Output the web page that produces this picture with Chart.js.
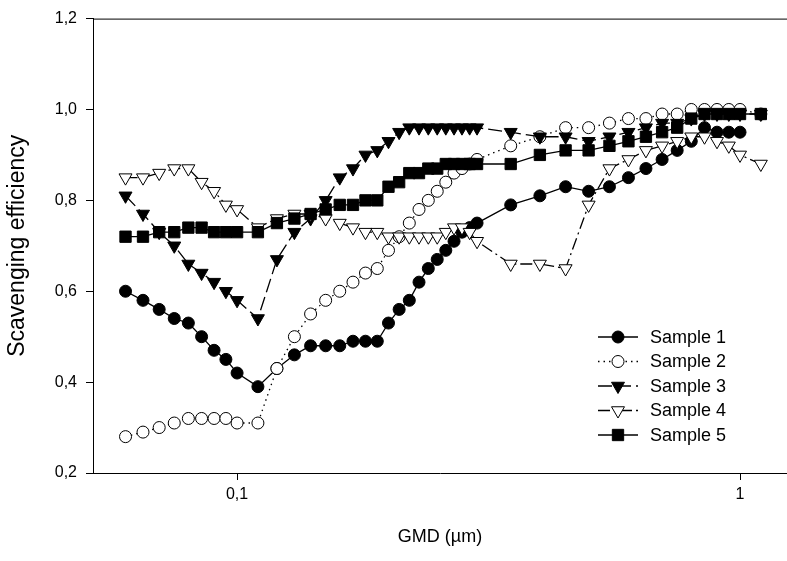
<!DOCTYPE html>
<html>
<head>
<meta charset="utf-8">
<title>Scavenging efficiency</title>
<script src="https://cdn.jsdelivr.net/npm/chart.js@4.4.1/dist/chart.umd.min.js"></script>
<style>
    html, body { margin: 0; padding: 0; background: #fff; }
    #wrap { width: 787px; height: 561px; }
</style>
</head>
<body>
<div id="wrap"><canvas id="myChart" width="787" height="561"></canvas></div>
<script>
// data
var gmd = [0.06, 0.065, 0.07, 0.075, 0.08, 0.085, 0.09, 0.095, 0.1,
    0.11, 0.12, 0.13, 0.14, 0.15, 0.16, 0.17, 0.18, 0.19, 0.2,
    0.21, 0.22, 0.23, 0.24, 0.25, 0.26, 0.27, 0.28, 0.29, 0.3,
    0.35, 0.4, 0.45, 0.5, 0.55, 0.6, 0.65, 0.7, 0.75, 0.8, 0.85, 0.9, 0.95, 1.0,
    1.1];

var sample1 = [0.60, 0.58, 0.56, 0.54, 0.53, 0.50, 0.47, 0.45, 0.42,
    0.39, 0.43, 0.46, 0.48, 0.48, 0.48, 0.49, 0.49, 0.49, 0.53,
    0.56, 0.58, 0.62, 0.65, 0.67, 0.69, 0.71, 0.73, 0.74, 0.75,
    0.79, 0.81, 0.83, 0.82, 0.83, 0.85, 0.87, 0.89, 0.91, 0.93, 0.96, 0.95, 0.95, 0.95,
    null];

var sample2 = [0.28, 0.29, 0.30, 0.31, 0.32, 0.32, 0.32, 0.32, 0.31,
    0.31, 0.43, 0.50, 0.55, 0.58, 0.60, 0.62, 0.64, 0.65, 0.69,
    0.72, 0.75, 0.78, 0.80, 0.82, 0.84, 0.86, 0.87, 0.88, 0.89,
    0.92, 0.94, 0.96, 0.96, 0.97, 0.98, 0.98, 0.99, 0.99, 1.00, 1.00, 1.00, 1.00, 1.00,
    0.99];

var sample3 = [0.81, 0.77, 0.73, 0.70, 0.66, 0.64, 0.62, 0.60, 0.58,
    0.54, 0.67, 0.73, 0.76, 0.80, 0.85, 0.87, 0.90, 0.91, 0.93,
    0.95, 0.96, 0.96, 0.96, 0.96, 0.96, 0.96, 0.96, 0.96, 0.96,
    0.95, 0.94, 0.94, 0.93, 0.94, 0.95, 0.96, 0.97, 0.97, 0.98, 0.99, 0.99, 0.99, 0.99,
    0.99];

var sample4 = [0.85, 0.85, 0.86, 0.87, 0.87, 0.84, 0.82, 0.79, 0.78,
    0.74, 0.76, 0.77, 0.77, 0.76, 0.75, 0.74, 0.73, 0.73, 0.72,
    0.72, 0.72, 0.72, 0.72, 0.72, 0.73, 0.74, 0.74, 0.73, 0.71,
    0.66, 0.66, 0.65, 0.79, 0.87, 0.89, 0.91, 0.92, 0.93, 0.94, 0.94, 0.93, 0.92, 0.90,
    0.88];

var sample5 = [0.72, 0.72, 0.73, 0.73, 0.74, 0.74, 0.73, 0.73, 0.73,
    0.73, 0.75, 0.76, 0.77, 0.78, 0.79, 0.79, 0.80, 0.80, 0.83,
    0.84, 0.86, 0.86, 0.87, 0.87, 0.88, 0.88, 0.88, 0.88, 0.88,
    0.88, 0.90, 0.91, 0.91, 0.92, 0.93, 0.94, 0.95, 0.96, 0.98, 0.99, 0.99, 0.99, 0.99,
    0.99];

var seriesNames = ['Sample 1', 'Sample 2', 'Sample 3', 'Sample 4', 'Sample 5'];
var xTicks = [0.1, 1];
var yTicks = [0.2, 0.4, 0.6, 0.8, 1.0, 1.2];

// gabungkan gmd dengan nilai, lewati yang kosong
function toPoints(values) {
    var pts = [];
    for (var i = 0; i < gmd.length; i++) {
        if (values[i] !== null) {
            pts.push({ x: gmd[i], y: values[i] });
        }
    }
    return pts;
}

function makeDataset(label, values, style) {
    return {
        label: label,
        data: toPoints(values),
        borderColor: '#000',
        borderWidth: 1.3,
        borderDash: style.dash,
        pointStyle: style.marker,
        pointRotation: style.rotation || 0,
        pointRadius: style.radius,
        pointHoverRadius: style.radius,
        pointBackgroundColor: style.fill,
        pointBorderColor: '#000',
        pointBorderWidth: 1,
        fill: false,
        tension: 0,
        order: style.order
    };
}

var datasets = [
    makeDataset(seriesNames[0], sample1, { marker: 'circle', radius: 6, fill: '#000', dash: [], order: 5 }),
    makeDataset(seriesNames[1], sample2, { marker: 'circle', radius: 6, fill: '#fff', dash: [1.5, 4], order: 4 }),
    makeDataset(seriesNames[2], sample3, { marker: 'triangle', rotation: 180, radius: 7.5, fill: '#000', dash: [14, 5], order: 3 }),
    makeDataset(seriesNames[3], sample4, { marker: 'triangle', rotation: 180, radius: 7.5, fill: '#fff', dash: [12, 4, 2, 4], order: 2 }),
    makeDataset(seriesNames[4], sample5, { marker: 'rect', radius: 8, fill: '#000', dash: [], order: 1 })
];

// legend di dalam area plot, garis + marker seperti aslinya
var insideLegend = {
    id: 'insideLegend',
    afterDraw: function (chart) {
        var ctx = chart.ctx;
        ctx.save();
        for (var i = 0; i < datasets.length; i++) {
            var ds = datasets[i];
            var y = 337 + i * 24.5;
            ctx.strokeStyle = '#000';
            ctx.lineWidth = 1.3;
            ctx.setLineDash(ds.borderDash);
            ctx.beginPath();
            ctx.moveTo(598, y);
            ctx.lineTo(638, y);
            ctx.stroke();
            ctx.setLineDash([]);
            ctx.fillStyle = ds.pointBackgroundColor;
            ctx.strokeStyle = '#000';
            ctx.lineWidth = 1;
            Chart.helpers.drawPoint(ctx, {
                pointStyle: ds.pointStyle,
                rotation: ds.pointRotation,
                radius: ds.pointRadius,
                borderWidth: 1
            }, 618, y);
            ctx.fillStyle = '#000';
            ctx.font = '18px "Liberation Sans", Arial, sans-serif';
            ctx.textBaseline = 'middle';
            ctx.textAlign = 'left';
            ctx.fillText(ds.label, 650, y + 1);
        }
        // garis atas kotak plot
        var area = chart.chartArea;
        ctx.strokeStyle = '#000';
        ctx.lineWidth = 1;
        ctx.beginPath();
        ctx.moveTo(area.left, area.top + 0.5);
        ctx.lineTo(area.right, area.top + 0.5);
        ctx.stroke();
        ctx.restore();
    }
};

Chart.defaults.font.family = '"Liberation Sans", Arial, sans-serif';
Chart.defaults.color = '#000';

var ctx = document.getElementById('myChart').getContext('2d');
var chart = new Chart(ctx, {
    type: 'line',
    data: { datasets: datasets },
    options: {
        responsive: false,
        animation: false,
        devicePixelRatio: 1,
        layout: { autoPadding: false, padding: { top: 16, right: 0, left: 0, bottom: 0 } },
        plugins: {
            legend: { display: false },
            tooltip: { enabled: false }
        },
        scales: {
            x: {
                type: 'logarithmic',
                min: 0.0517,
                max: 1.24,
                afterBuildTicks: function (scale) {
                    scale.ticks = xTicks.map(function (v) { return { value: v }; });
                },
                afterFit: function (scale) {
                    scale.height = 88;
                    scale.paddingLeft = 0;
                    scale.paddingRight = 0;
                },
                ticks: {
                    font: { size: 16 },
                    padding: 5,
                    maxRotation: 0,
                    autoSkip: false,
                    callback: function (v) { return String(v).replace('.', ','); }
                },
                grid: { drawOnChartArea: false, drawTicks: true, tickLength: 7, color: '#000' },
                border: { display: true, color: '#000', width: 1 },
                title: {
                    display: true,
                    text: 'GMD (µm)',
                    font: { size: 18 },
                    padding: { top: 0, bottom: 13 }
                }
            },
            y: {
                type: 'linear',
                min: 0.2,
                max: 1.2,
                afterBuildTicks: function (scale) {
                    scale.ticks = yTicks.map(function (v) { return { value: v }; });
                },
                afterFit: function (scale) { scale.width = 93; },
                ticks: {
                    font: { size: 16 },
                    padding: 9,
                    callback: function (v) { return v.toFixed(1).replace('.', ','); }
                },
                grid: { drawOnChartArea: false, drawTicks: true, tickLength: 7, color: '#000' },
                border: { display: true, color: '#000', width: 1 },
                title: {
                    display: true,
                    text: 'Scavenging efficiency',
                    font: { size: 23 },
                    padding: { top: 4, bottom: 0 }
                }
            }
        }
    },
    plugins: [insideLegend]
});
</script>
</body>
</html>
